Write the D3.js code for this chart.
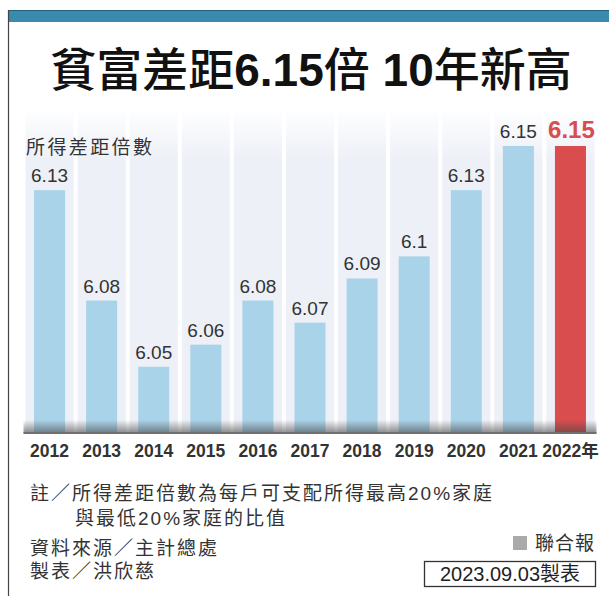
<!DOCTYPE html>
<html><head><meta charset="utf-8">
<script src="https://cdn.jsdelivr.net/npm/d3@7"></script>
<style>
html,body{margin:0;padding:0;background:#fff;}
svg{display:block;}
text{font-family:"Liberation Sans","Noto Sans CJK TC",sans-serif;}
</style></head>
<body>
<script>
const years = ["2012","2013","2014","2015","2016","2017","2018","2019","2020","2021","2022"];
const yearLabels = ["2012","2013","2014","2015","2016","2017","2018","2019","2020","2021","2022年"];
const values = [6.13,6.08,6.05,6.06,6.08,6.07,6.09,6.1,6.13,6.15,6.15];
const valueLabels = ["6.13","6.08","6.05","6.06","6.08","6.07","6.09","6.1","6.13","6.15","6.15"];
const highlightYear = "2022";
const titleParts = [["貧富差距",500],["6.15",700],["倍",500],[" 10",700],["年新高",500]];
const yLabel = "所得差距倍數";
const notes = ["註／所得差距倍數為每戶可支配所得最高20%家庭","與最低20%家庭的比值"];
const credits = ["資料來源／主計總處","製表／洪欣慈"];
const brand = "聯合報";
const dateText = "2023.09.03製表";

const W = 609, H = 596;
const svg = d3.select("body").append("svg").attr("width", W).attr("height", H);
const defs = svg.append("defs");

const gFade = defs.append("linearGradient").attr("id","colFade").attr("x1",0).attr("y1",0).attr("x2",0).attr("y2",1);
gFade.append("stop").attr("offset","0%").attr("stop-color","#edf0f7").attr("stop-opacity",0);
gFade.append("stop").attr("offset","16%").attr("stop-color","#edf0f7").attr("stop-opacity",1);
gFade.append("stop").attr("offset","100%").attr("stop-color","#edf0f7").attr("stop-opacity",1);
const gShadow = defs.append("linearGradient").attr("id","shadow").attr("x1",0).attr("y1",0).attr("x2",0).attr("y2",1);
gShadow.append("stop").attr("offset","0%").attr("stop-color","#444").attr("stop-opacity",0);
gShadow.append("stop").attr("offset","100%").attr("stop-color","#444").attr("stop-opacity",0.6);

// frame
svg.append("rect").attr("x",8).attr("y",10).attr("width",W-8).attr("height",12).attr("fill","#3a8ab0");
svg.append("line").attr("x1",8).attr("x2",W).attr("y1",10.5).attr("y2",10.5).attr("stroke","#23607e").attr("stroke-width",1);
svg.append("line").attr("x1",8.5).attr("x2",8.5).attr("y1",10).attr("y2",H).attr("stroke","#444").attr("stroke-width",1.2);

// title
const t = svg.append("text").attr("x",311).attr("y",86).attr("text-anchor","middle")
  .attr("font-size",46).attr("fill","#111");
t.selectAll("tspan").data(titleParts).join("tspan").attr("font-weight", d => d[1]).text(d => d[0]);

const x = d3.scaleBand().domain(years).range([23.5, 596.5]).padding(0);
const y = d3.scaleLinear().domain([6.02, 6.15]).range([433, 146]);
const colTop = 108;
const barW = 31;

svg.append("g").selectAll("rect").data(years).join("rect")
  .attr("x", d => x(d) + 2).attr("width", x.bandwidth() - 4)
  .attr("y", colTop).attr("height", y(6.02) - colTop)
  .attr("fill","url(#colFade)");

svg.append("text").attr("x",26).attr("y",154).attr("font-size",19).attr("letter-spacing","2.4px")
  .attr("fill","#333").text(yLabel);

svg.append("g").selectAll("rect").data(values).join("rect")
  .attr("x", (d,i) => x(years[i]) + (x.bandwidth()-barW)/2)
  .attr("width", barW)
  .attr("y", d => y(d)).attr("height", d => y(6.02) - y(d))
  .attr("fill", (d,i) => years[i] === highlightYear ? "#d94d4f" : "#a9d3e9");

svg.append("rect").attr("x", x.range()[0]).attr("width", x.range()[1]-x.range()[0])
  .attr("y", y(6.02) - 13).attr("height", 13).attr("fill","url(#shadow)");
svg.append("line").attr("x1", x.range()[0]).attr("x2", x.range()[1])
  .attr("y1", y(6.02)).attr("y2", y(6.02)).attr("stroke","#707070").attr("stroke-width",2);

svg.append("g").selectAll("text").data(values).join("text")
  .attr("x", (d,i) => x(years[i]) + x.bandwidth()/2 + (years[i]===highlightYear ? 1 : 0))
  .attr("y", d => y(d) - 8)
  .attr("text-anchor","middle")
  .attr("font-size", (d,i) => years[i]===highlightYear ? 24 : 19)
  .attr("font-weight", (d,i) => years[i]===highlightYear ? 700 : 400)
  .attr("fill", (d,i) => years[i]===highlightYear ? "#d94d4f" : "#333")
  .text((d,i) => valueLabels[i]);

const xAxis = d3.axisBottom(x).tickSize(0).tickPadding(0).tickFormat((d,i) => yearLabels[i]);
const ax = svg.append("g").attr("transform",`translate(0,${y(6.02)})`).call(xAxis);
ax.select(".domain").remove();
ax.selectAll("text").attr("dy",0).attr("y",24).attr("font-size",17.5).attr("font-weight",700)
  .attr("fill","#333").attr("font-family",'"Liberation Sans","Noto Sans CJK TC",sans-serif');

svg.append("text").attr("x",30).attr("y",500).attr("font-size",19).attr("letter-spacing","2px").attr("fill","#333").text(notes[0]);
svg.append("text").attr("x",75).attr("y",525).attr("font-size",19).attr("letter-spacing","2px").attr("fill","#333").text(notes[1]);
svg.append("text").attr("x",30).attr("y",555).attr("font-size",19).attr("letter-spacing","2px").attr("fill","#333").text(credits[0]);
svg.append("text").attr("x",30).attr("y",578).attr("font-size",19).attr("letter-spacing","2px").attr("fill","#333").text(credits[1]);

svg.append("rect").attr("x",513).attr("y",536).attr("width",14).attr("height",14).attr("fill","#aaa");
svg.append("text").attr("x",595).attr("y",550).attr("text-anchor","end").attr("font-size",19).attr("letter-spacing","1px").attr("fill","#333").text(brand);

svg.append("rect").attr("x",424.5).attr("y",561.5).attr("width",171).attr("height",25).attr("fill","none").attr("stroke","#333").attr("stroke-width",1.3);
svg.append("text").attr("x",510).attr("y",581).attr("text-anchor","middle").attr("font-size",20).attr("fill","#222").text(dateText);
</script>
</body></html>
